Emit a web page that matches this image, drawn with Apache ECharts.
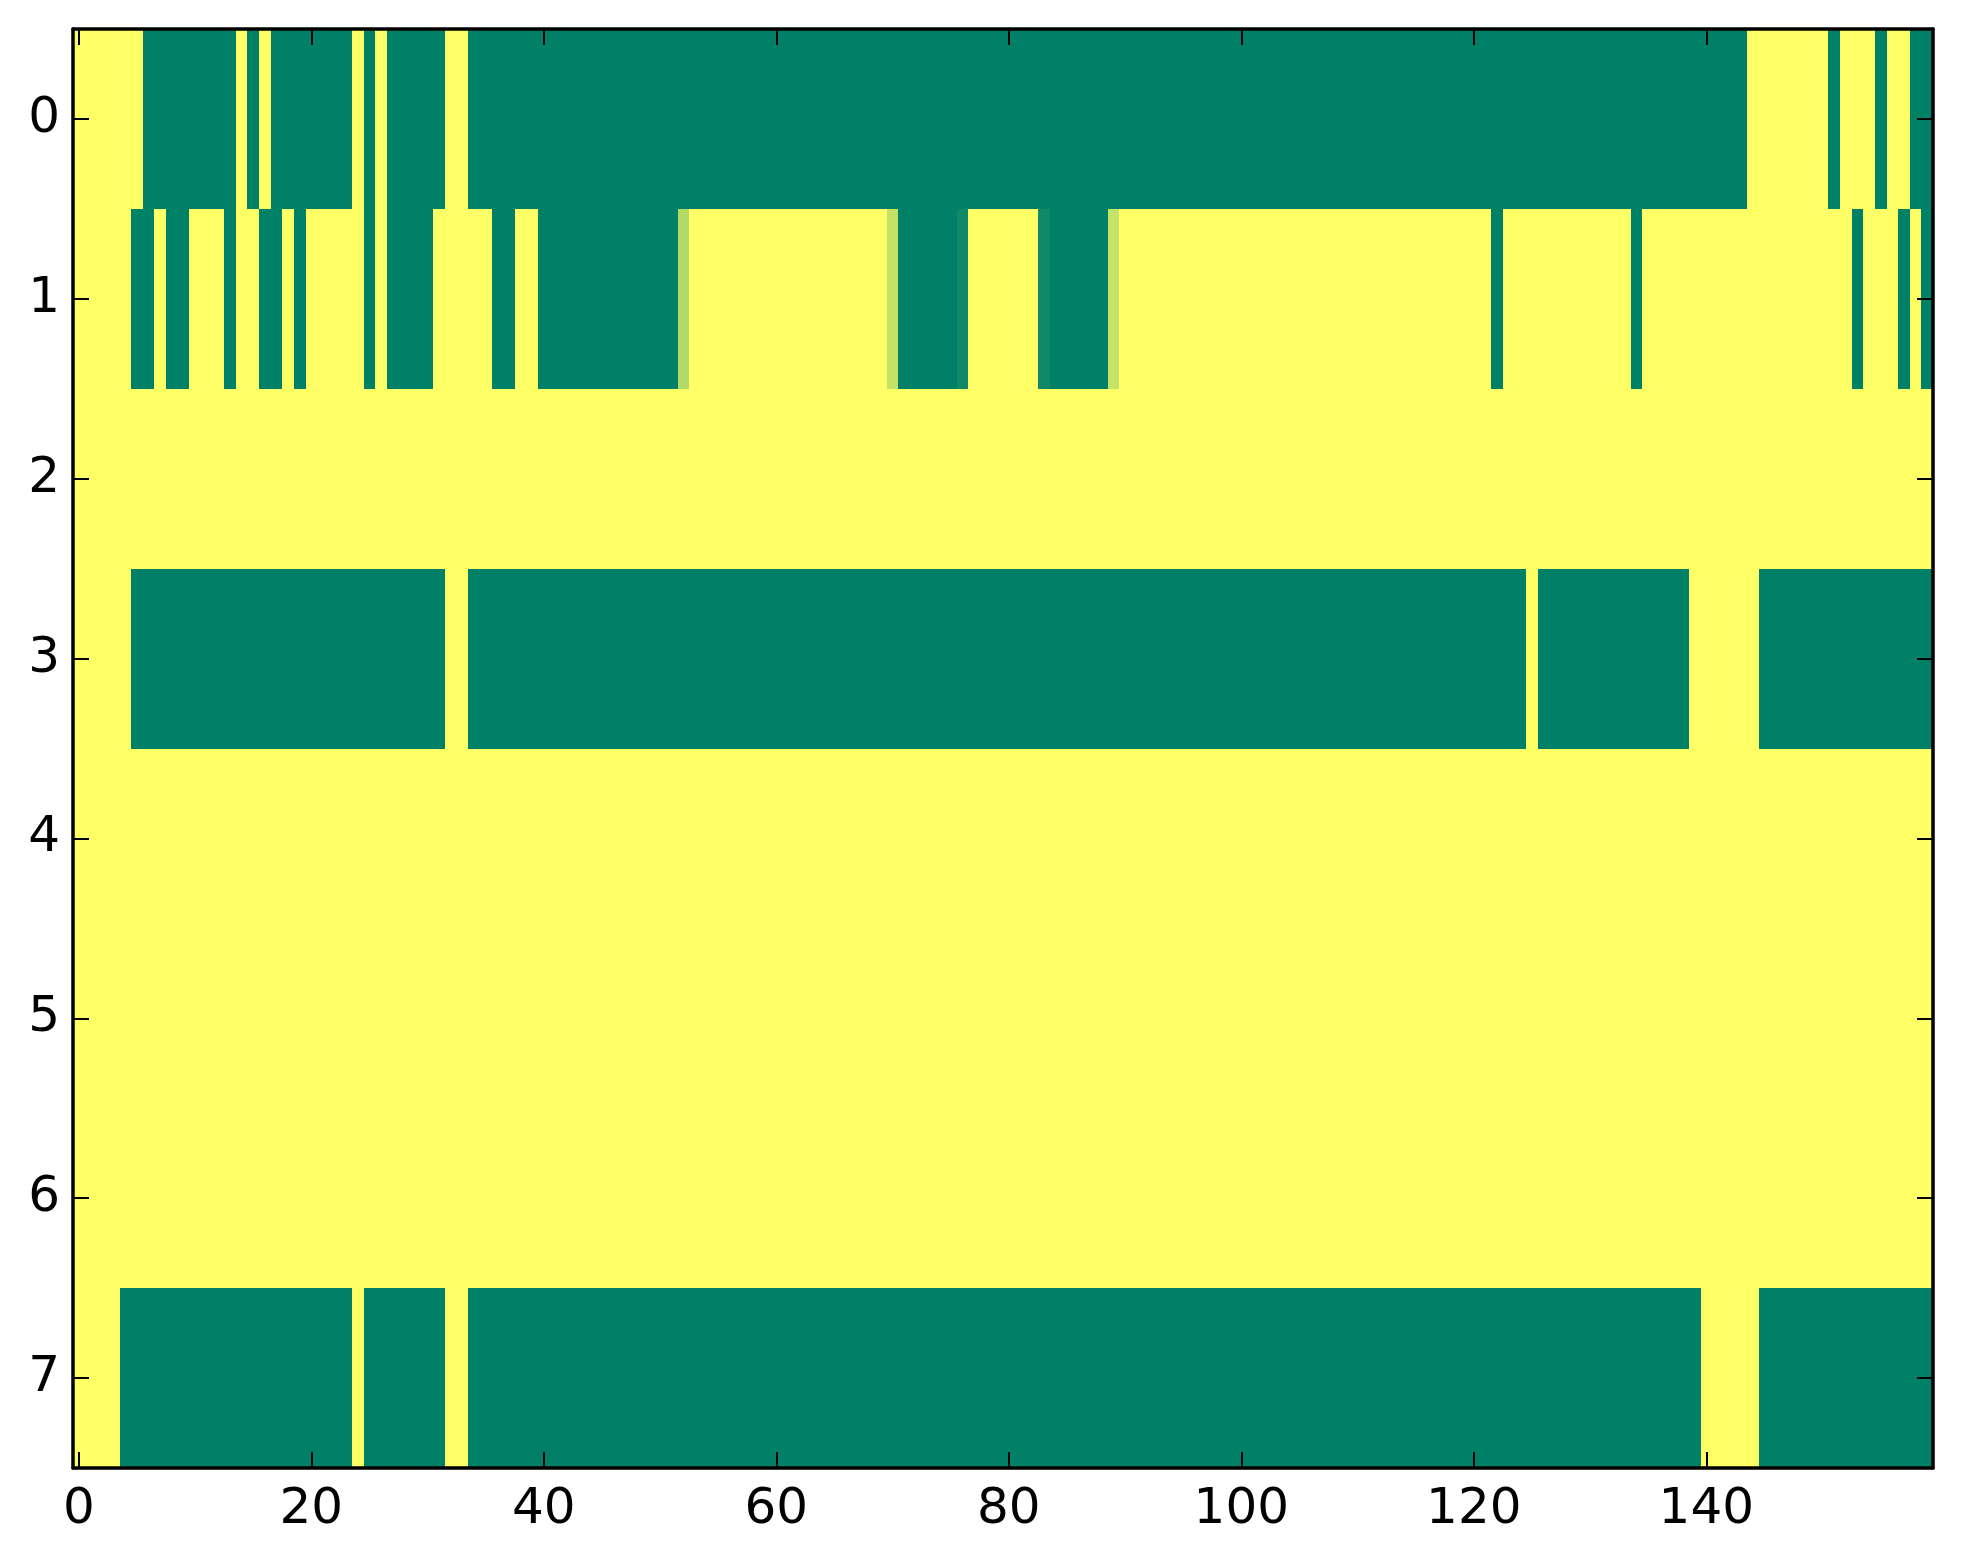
<!DOCTYPE html>
<html>
<head>
<meta charset="utf-8">
<script src="https://cdn.jsdelivr.net/npm/echarts@6/dist/echarts.min.js"></script>
<style>
  html, body { margin: 0; padding: 0; background: #ffffff; }
  #chart { width: 1963px; height: 1564px; }
</style>
</head>
<body>
<div id="chart"></div>
<script>
// Row labels (y categories) and column categories
const rowLabels = ['0', '1', '2', '3', '4', '5', '6', '7'];
const xTickLabels = ['0', '20', '40', '60', '80', '100', '120', '140'];
const colCount = 160;
const colLabels = [];
for (let i = 0; i < colCount; i++) colLabels.push(String(i));

// Cell values per row (0 = yellow, 1 = green)
const row0 = [
  0,0,0,0,0,0,1,1,1,1, 1,1,1,1,0,1,0,1,1,1, 1,1,1,1,0,1,0,1,1,1, 1,1,0,0,1,1,1,1,1,1,
  1,1,1,1,1,1,1,1,1,1, 1,1,1,1,1,1,1,1,1,1, 1,1,1,1,1,1,1,1,1,1, 1,1,1,1,1,1,1,1,1,1,
  1,1,1,1,1,1,1,1,1,1, 1,1,1,1,1,1,1,1,1,1, 1,1,1,1,1,1,1,1,1,1, 1,1,1,1,1,1,1,1,1,1,
  1,1,1,1,1,1,1,1,1,1, 1,1,1,1,1,1,1,1,1,1, 1,1,1,1,0,0,0,0,0,0, 0,1,0,0,0,1,0,0,1,1
];
const row1 = [
  0,0,0,0,0,1,1,0,1,1, 0,0,0,1,0,0,1,1,0,1, 0,0,0,0,0,1,0,1,1,1, 1,0,0,0,0,0,1,1,0,0,
  1,1,1,1,1,1,1,1,1,1, 1,1,0.3,0,0,0,0,0,0,0, 0,0,0,0,0,0,0,0,0,0, 0.23,1,1,1,1,1,0.93,0,0,0,
  0,0,0,0.93,1,1,1,1,1,0.23, 0,0,0,0,0,0,0,0,0,0, 0,0,0,0,0,0,0,0,0,0, 0,0,0,0,0,0,0,0,0,0,
  0,0,1,0,0,0,0,0,0,0, 0,0,0,0,1,0,0,0,0,0, 0,0,0,0,0,0,0,0,0,0, 0,0,0,1,0,0,0,1,0,1
];
const row2 = [
  0,0,0,0,0,0,0,0,0,0, 0,0,0,0,0,0,0,0,0,0, 0,0,0,0,0,0,0,0,0,0, 0,0,0,0,0,0,0,0,0,0,
  0,0,0,0,0,0,0,0,0,0, 0,0,0,0,0,0,0,0,0,0, 0,0,0,0,0,0,0,0,0,0, 0,0,0,0,0,0,0,0,0,0,
  0,0,0,0,0,0,0,0,0,0, 0,0,0,0,0,0,0,0,0,0, 0,0,0,0,0,0,0,0,0,0, 0,0,0,0,0,0,0,0,0,0,
  0,0,0,0,0,0,0,0,0,0, 0,0,0,0,0,0,0,0,0,0, 0,0,0,0,0,0,0,0,0,0, 0,0,0,0,0,0,0,0,0,0
];
const row3 = [
  0,0,0,0,0,1,1,1,1,1, 1,1,1,1,1,1,1,1,1,1, 1,1,1,1,1,1,1,1,1,1, 1,1,0,0,1,1,1,1,1,1,
  1,1,1,1,1,1,1,1,1,1, 1,1,1,1,1,1,1,1,1,1, 1,1,1,1,1,1,1,1,1,1, 1,1,1,1,1,1,1,1,1,1,
  1,1,1,1,1,1,1,1,1,1, 1,1,1,1,1,1,1,1,1,1, 1,1,1,1,1,1,1,1,1,1, 1,1,1,1,1,1,1,1,1,1,
  1,1,1,1,1,0,1,1,1,1, 1,1,1,1,1,1,1,1,1,0, 0,0,0,0,0,1,1,1,1,1, 1,1,1,1,1,1,1,1,1,1
];
const row4 = [
  0,0,0,0,0,0,0,0,0,0, 0,0,0,0,0,0,0,0,0,0, 0,0,0,0,0,0,0,0,0,0, 0,0,0,0,0,0,0,0,0,0,
  0,0,0,0,0,0,0,0,0,0, 0,0,0,0,0,0,0,0,0,0, 0,0,0,0,0,0,0,0,0,0, 0,0,0,0,0,0,0,0,0,0,
  0,0,0,0,0,0,0,0,0,0, 0,0,0,0,0,0,0,0,0,0, 0,0,0,0,0,0,0,0,0,0, 0,0,0,0,0,0,0,0,0,0,
  0,0,0,0,0,0,0,0,0,0, 0,0,0,0,0,0,0,0,0,0, 0,0,0,0,0,0,0,0,0,0, 0,0,0,0,0,0,0,0,0,0
];
const row5 = [
  0,0,0,0,0,0,0,0,0,0, 0,0,0,0,0,0,0,0,0,0, 0,0,0,0,0,0,0,0,0,0, 0,0,0,0,0,0,0,0,0,0,
  0,0,0,0,0,0,0,0,0,0, 0,0,0,0,0,0,0,0,0,0, 0,0,0,0,0,0,0,0,0,0, 0,0,0,0,0,0,0,0,0,0,
  0,0,0,0,0,0,0,0,0,0, 0,0,0,0,0,0,0,0,0,0, 0,0,0,0,0,0,0,0,0,0, 0,0,0,0,0,0,0,0,0,0,
  0,0,0,0,0,0,0,0,0,0, 0,0,0,0,0,0,0,0,0,0, 0,0,0,0,0,0,0,0,0,0, 0,0,0,0,0,0,0,0,0,0
];
const row6 = [
  0,0,0,0,0,0,0,0,0,0, 0,0,0,0,0,0,0,0,0,0, 0,0,0,0,0,0,0,0,0,0, 0,0,0,0,0,0,0,0,0,0,
  0,0,0,0,0,0,0,0,0,0, 0,0,0,0,0,0,0,0,0,0, 0,0,0,0,0,0,0,0,0,0, 0,0,0,0,0,0,0,0,0,0,
  0,0,0,0,0,0,0,0,0,0, 0,0,0,0,0,0,0,0,0,0, 0,0,0,0,0,0,0,0,0,0, 0,0,0,0,0,0,0,0,0,0,
  0,0,0,0,0,0,0,0,0,0, 0,0,0,0,0,0,0,0,0,0, 0,0,0,0,0,0,0,0,0,0, 0,0,0,0,0,0,0,0,0,0
];
const row7 = [
  0,0,0,0,1,1,1,1,1,1, 1,1,1,1,1,1,1,1,1,1, 1,1,1,1,0,1,1,1,1,1, 1,1,0,0,1,1,1,1,1,1,
  1,1,1,1,1,1,1,1,1,1, 1,1,1,1,1,1,1,1,1,1, 1,1,1,1,1,1,1,1,1,1, 1,1,1,1,1,1,1,1,1,1,
  1,1,1,1,1,1,1,1,1,1, 1,1,1,1,1,1,1,1,1,1, 1,1,1,1,1,1,1,1,1,1, 1,1,1,1,1,1,1,1,1,1,
  1,1,1,1,1,1,1,1,1,1, 1,1,1,1,1,1,1,1,1,1, 0,0,0,0,0,1,1,1,1,1, 1,1,1,1,1,1,1,1,1,1
];
const rows = [row0, row1, row2, row3, row4, row5, row6, row7];

// Build [x, y, value] triples from the arrays
const cellData = [];
rows.forEach((r, y) => r.forEach((v, x) => cellData.push([x, y, v])));

const FONT = 'DejaVu Sans';
const showX = (i, v) => xTickLabels.indexOf(v) !== -1;
const axisLineStyle = { show: true, onZero: false, lineStyle: { color: '#000', width: 3.5 } };
const tickStyle = { color: '#000', width: 2 };

// Cells drawn through the axes' scales, snapped to whole pixels so neighbours meet without seams
function renderCell(params, api) {
  const c = api.coord([api.value(0), api.value(1)]);
  const s = api.size([1, 1]);
  const x0 = Math.round(c[0] - s[0] / 2), x1 = Math.round(c[0] + s[0] / 2);
  const y0 = Math.round(c[1] - s[1] / 2), y1 = Math.round(c[1] + s[1] / 2);
  return {
    type: 'rect',
    shape: { x: x0, y: y0, width: x1 - x0, height: y1 - y0 },
    style: { fill: api.visual('color') }
  };
}

const chart = echarts.init(document.getElementById('chart'), null, { renderer: 'canvas' });
chart.setOption({
  backgroundColor: '#ffffff',
  animation: false,
  grid: { left: 73, right: 30, top: 29, bottom: 96, containLabel: false },
  xAxis: [
    {
      type: 'category', data: colLabels, position: 'bottom', z: 10,
      axisLine: axisLineStyle,
      axisTick: { show: true, inside: true, length: 16, alignWithLabel: true, interval: showX, lineStyle: tickStyle },
      axisLabel: { show: true, interval: showX, margin: 17, color: '#000', fontFamily: FONT, fontSize: 50 },
      splitLine: { show: false }
    },
    {
      type: 'category', data: colLabels, position: 'top', z: 10,
      axisLine: axisLineStyle,
      axisTick: { show: true, inside: true, length: 16, alignWithLabel: true, interval: showX, lineStyle: tickStyle },
      axisLabel: { show: false },
      splitLine: { show: false }
    }
  ],
  yAxis: [
    {
      type: 'category', data: rowLabels, inverse: true, position: 'left', z: 10,
      axisLine: axisLineStyle,
      axisTick: { show: true, inside: true, length: 16, alignWithLabel: true, interval: 0, lineStyle: tickStyle },
      axisLabel: { show: true, interval: 0, margin: 13, color: '#000', fontFamily: FONT, fontSize: 50 },
      splitLine: { show: false }
    },
    {
      type: 'category', data: rowLabels, inverse: true, position: 'right', z: 10,
      axisLine: axisLineStyle,
      axisTick: { show: true, inside: true, length: 16, alignWithLabel: true, interval: 0, lineStyle: tickStyle },
      axisLabel: { show: false },
      splitLine: { show: false }
    }
  ],
  visualMap: {
    show: false, type: 'continuous', min: 0, max: 1, dimension: 2, seriesIndex: 0,
    inRange: { color: ['#ffff66', '#008066'] }
  },
  series: [{
    type: 'custom',
    xAxisIndex: 0, yAxisIndex: 0,
    encode: { x: 0, y: 1 },
    renderItem: renderCell,
    data: cellData,
    silent: true,
    progressive: 0
  }]
});
</script>
</body>
</html>
